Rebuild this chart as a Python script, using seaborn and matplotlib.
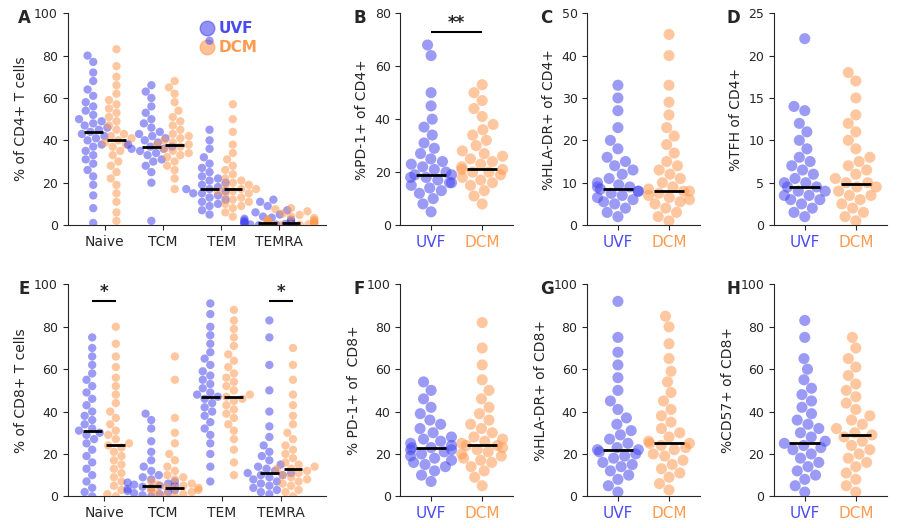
import numpy as np
import pandas as pd
import matplotlib
matplotlib.use("Agg")
import matplotlib.pyplot as plt
import seaborn as sns

BLUE = "#4a4af0"
ORANGE = "#ff9a50"
cats = ["Naive", "TCM", "TEM", "TEMRA"]

# Panel A: % of CD4+ T cells
a_uvf = {
    "Naive": [1, 8, 14, 19, 23, 26, 29, 31, 33, 35, 37, 38, 40, 41, 42, 43, 44, 45, 46, 47, 48, 49, 50, 52, 54, 56, 58, 61, 64, 68, 72, 77, 80],
    "TCM": [2, 20, 25, 28, 30, 31, 33, 34, 35, 36, 36, 37, 37, 38, 39, 40, 41, 42, 43, 44, 46, 48, 50, 53, 56, 60, 63, 66],
    "TEM": [5, 7, 9, 10, 11, 12, 13, 14, 15, 15, 16, 17, 17, 18, 19, 20, 21, 22, 23, 25, 27, 29, 32, 36, 40, 45, 87],
    "TEMRA": [0, 0, 0.2, 0.3, 0.5, 0.6, 0.8, 1, 1, 1.2, 1.4, 1.6, 1.9, 2.2, 2.6, 3, 3.5, 4, 5, 6, 7, 9, 11, 12],
}
a_dcm = {
    "Naive": [2, 6, 11, 15, 19, 22, 25, 28, 30, 33, 35, 37, 38, 39, 40, 41, 42, 43, 45, 47, 49, 51, 53, 55, 57, 59, 62, 66, 70, 75, 83],
    "TCM": [17, 22, 26, 28, 30, 32, 33, 34, 35, 36, 37, 38, 38, 39, 40, 41, 42, 43, 45, 47, 49, 51, 54, 58, 62, 65, 68],
    "TEM": [4, 6, 8, 9, 10, 11, 12, 13, 14, 15, 16, 16, 17, 17, 18, 19, 20, 21, 22, 24, 26, 28, 31, 34, 38, 44, 50, 57],
    "TEMRA": [0, 0, 0.2, 0.3, 0.4, 0.6, 0.8, 1, 1, 1.1, 1.3, 1.5, 1.8, 2, 2.4, 2.8, 3.3, 4, 4.8, 5.5, 6.5, 7.5, 8],
}
a_med = {"UVF": [44, 37, 17, 1], "DCM": [40, 38, 17, 1]}

# Panel E: % of CD8+ T cells
e_uvf = {
    "Naive": [0, 2, 4, 7, 10, 13, 16, 19, 22, 25, 27, 29, 30, 31, 32, 34, 36, 38, 40, 43, 46, 49, 52, 55, 58, 62, 66, 70, 75],
    "TCM": [0, 0.5, 1, 1.5, 2, 2.5, 3, 3.5, 4, 4.5, 5, 5, 5.5, 6, 6.5, 7, 8, 9, 10, 12, 14, 17, 21, 26, 32, 36, 39],
    "TEM": [7, 14, 20, 25, 29, 32, 35, 38, 40, 42, 44, 46, 47, 48, 49, 51, 53, 55, 57, 59, 62, 65, 68, 72, 76, 80, 86, 91],
    "TEMRA": [1, 2, 3, 4, 5, 6, 7, 8, 9, 10, 10, 11, 11, 12, 13, 14, 15, 17, 19, 21, 24, 28, 33, 40, 50, 62, 75, 83],
}
e_dcm = {
    "Naive": [0, 1, 3, 5, 7, 9, 11, 13, 15, 17, 19, 21, 23, 24, 25, 27, 29, 31, 34, 37, 40, 44, 48, 52, 56, 61, 66, 72, 80],
    "TCM": [0, 0.5, 1, 1.5, 2, 2.5, 3, 3.5, 4, 4, 4.5, 5, 5.5, 6, 7, 8, 9, 10, 12, 14, 17, 20, 25, 30, 37, 55, 66],
    "TEM": [10, 16, 22, 27, 31, 34, 37, 39, 41, 43, 45, 46, 47, 48, 50, 52, 54, 56, 58, 61, 64, 67, 71, 75, 79, 83, 88],
    "TEMRA": [0, 2, 3, 5, 6, 7, 8, 9, 10, 11, 12, 13, 13, 14, 15, 16, 18, 20, 22, 24, 27, 30, 34, 38, 43, 48, 55, 62, 70],
}
e_med = {"UVF": [31, 5, 47, 11], "DCM": [24, 4, 47, 13]}

# Two-group panels
b_uvf = [5, 8, 10, 12, 13, 14, 15, 16, 16, 17, 18, 18, 19, 19, 20, 21, 22, 23, 24, 25, 27, 29, 31, 34, 37, 40, 45, 50, 64, 68]
b_dcm = [8, 11, 13, 15, 16, 17, 18, 19, 20, 20, 21, 21, 22, 23, 24, 25, 26, 27, 28, 30, 32, 34, 36, 38, 41, 44, 47, 50, 53]
c_uvf = [2, 3, 4, 5, 5.5, 6, 6.5, 7, 7.5, 8, 8, 8.5, 9, 9, 9.5, 10, 11, 12, 13, 14, 15, 16, 18, 20, 23, 27, 30, 33]
c_dcm = [1, 2, 3, 4, 5, 5.5, 6, 6.5, 7, 7.5, 8, 8, 8.5, 9, 10, 11, 12, 13, 14, 15, 17, 19, 21, 23, 26, 29, 33, 40, 45]
d_uvf = [1, 1.5, 2, 2.5, 3, 3, 3.5, 3.5, 4, 4, 4.5, 4.5, 5, 5, 5.5, 6, 6.5, 7, 7.5, 8, 9, 10, 11, 12, 13.5, 14, 22]
d_dcm = [0.5, 1, 1.5, 2, 2.5, 3, 3.5, 3.5, 4, 4.5, 4.5, 5, 5, 5.5, 6, 6.5, 7, 7.5, 8, 9, 10, 11, 12, 13, 15, 17, 18]
f_uvf = [7, 10, 12, 14, 15, 16, 17, 18, 19, 20, 21, 22, 22, 23, 23, 24, 25, 26, 27, 28, 30, 32, 34, 36, 39, 42, 46, 50, 54]
f_dcm = [5, 9, 12, 14, 16, 17, 18, 19, 20, 21, 22, 23, 24, 24, 25, 26, 27, 28, 30, 32, 34, 36, 39, 42, 46, 50, 55, 62, 70, 82]
g_uvf = [2, 5, 8, 10, 12, 14, 15, 16, 18, 19, 20, 21, 22, 22, 23, 25, 27, 29, 31, 34, 37, 41, 45, 50, 56, 62, 68, 75, 92]
g_dcm = [3, 6, 9, 11, 13, 15, 17, 19, 20, 22, 23, 24, 25, 25, 26, 28, 30, 32, 35, 38, 41, 45, 49, 54, 59, 65, 72, 80, 85]
h_uvf = [2, 5, 8, 10, 12, 14, 16, 18, 20, 22, 23, 24, 25, 26, 28, 30, 32, 34, 36, 39, 42, 45, 48, 51, 55, 60, 65, 75, 83]
h_dcm = [2, 5, 8, 11, 14, 16, 18, 20, 22, 24, 26, 28, 29, 30, 32, 34, 36, 38, 41, 44, 47, 50, 53, 57, 61, 65, 70, 75]
pair_med = {"B": (19, 21), "C": (8.5, 8), "D": (4.5, 4.8), "F": (23, 24), "G": (22, 25), "H": (25, 29)}

sns.set_style("ticks")
plt.rcParams['font.family'] = ['DejaVu Sans']
pal = {"UVF": BLUE, "DCM": ORANGE}


def grouped_panel(ax, uvf, dcm, med, ylabel):
    rows = []
    for c in cats:
        rows += [(c, "UVF", v) for v in uvf[c]]
        rows += [(c, "DCM", v) for v in dcm[c]]
    df = pd.DataFrame(rows, columns=["cat", "group", "val"])
    sns.swarmplot(data=df, x="cat", y="val", hue="group", order=cats, hue_order=["UVF", "DCM"],
                  dodge=True, palette=pal, size=6, alpha=0.55, ax=ax, legend=False)
    for i in range(len(cats)):
        ax.hlines(med["UVF"][i], i - 0.36, i - 0.04, color="black", lw=2, zorder=5)
        ax.hlines(med["DCM"][i], i + 0.04, i + 0.36, color="black", lw=2, zorder=5)
    ax.set_ylim(0, 100)
    ax.set_yticks(range(0, 101, 20))
    ax.set_xlabel("")
    ax.set_ylabel(ylabel, fontsize=10)


def pair_panel(ax, uvf, dcm, med, ylabel, ymax, ystep):
    df = pd.DataFrame({"group": ["UVF"] * len(uvf) + ["DCM"] * len(dcm), "val": uvf + dcm})
    sns.swarmplot(data=df, x="group", y="val", hue="group", order=["UVF", "DCM"],
                  palette=pal, size=8, alpha=0.55, ax=ax, legend=False)
    ax.hlines(med[0], -0.3, 0.3, color="black", lw=2, zorder=5)
    ax.hlines(med[1], 0.7, 1.3, color="black", lw=2, zorder=5)
    ax.set_ylim(0, ymax)
    ax.set_yticks(np.arange(0, ymax + 0.1, ystep))
    ax.set_xlim(-0.6, 1.6)
    ax.set_xlabel("")
    ax.set_ylabel(ylabel, fontsize=10)
    ax.tick_params(axis="x", labelsize=11)
    for lbl, col in zip(ax.get_xticklabels(), [BLUE, ORANGE]):
        lbl.set_color(col)


fig = plt.figure(figsize=(9, 5.28), dpi=100)
gs = fig.add_gridspec(2, 4, width_ratios=[2.3, 1, 1, 1], left=0.075, right=0.985,
                      top=0.975, bottom=0.06, wspace=0.5, hspace=0.28)
axA = fig.add_subplot(gs[0, 0]); axB = fig.add_subplot(gs[0, 1])
axC = fig.add_subplot(gs[0, 2]); axD = fig.add_subplot(gs[0, 3])
axE = fig.add_subplot(gs[1, 0]); axF = fig.add_subplot(gs[1, 1])
axG = fig.add_subplot(gs[1, 2]); axH = fig.add_subplot(gs[1, 3])

grouped_panel(axA, a_uvf, a_dcm, a_med, "% of CD4+ T cells")
grouped_panel(axE, e_uvf, e_dcm, e_med, "% of CD8+ T cells")
pair_panel(axB, b_uvf, b_dcm, pair_med["B"], "%PD-1+ of CD4+", 80, 20)
pair_panel(axC, c_uvf, c_dcm, pair_med["C"], "%HLA-DR+ of CD4+", 50, 10)
pair_panel(axD, d_uvf, d_dcm, pair_med["D"], "%TFH of CD4+", 25, 5)
pair_panel(axF, f_uvf, f_dcm, pair_med["F"], "% PD-1+ of  CD8+", 100, 20)
pair_panel(axG, g_uvf, g_dcm, pair_med["G"], "%HLA-DR+ of CD8+", 100, 20)
pair_panel(axH, h_uvf, h_dcm, pair_med["H"], "%CD57+ of CD8+", 100, 20)

# legend in A
axA.scatter([1.75], [93], s=110, color=BLUE, alpha=0.6)
axA.text(1.95, 93, "UVF", color=BLUE, fontweight="bold", va="center", fontsize=11)
axA.scatter([1.75], [84], s=110, color=ORANGE, alpha=0.6)
axA.text(1.95, 84, "DCM", color=ORANGE, fontweight="bold", va="center", fontsize=11)

# significance bars
axB.hlines(73, 0, 1, color="black", lw=1.5)
axB.text(0.5, 73, "**", ha="center", va="bottom", fontsize=12, fontweight="bold")
for x in [0, 3]:
    axE.hlines(92, x - 0.2, x + 0.2, color="black", lw=1.5)
    axE.text(x, 92, "*", ha="center", va="bottom", fontsize=12, fontweight="bold")

for ax, letter in zip([axA, axB, axC, axD, axE, axF, axG, axH], "ABCDEFGH"):
    sns.despine(ax=ax)
    ax.tick_params(axis="y", labelsize=9)
    ax.text(-0.19 if letter in "AE" else -0.42, 1.02, letter, transform=ax.transAxes,
            fontsize=12, fontweight="bold", va="top")
for ax in [axA, axE]:
    ax.tick_params(axis="x", labelsize=10)

fig.savefig("out.png", dpi=100)
